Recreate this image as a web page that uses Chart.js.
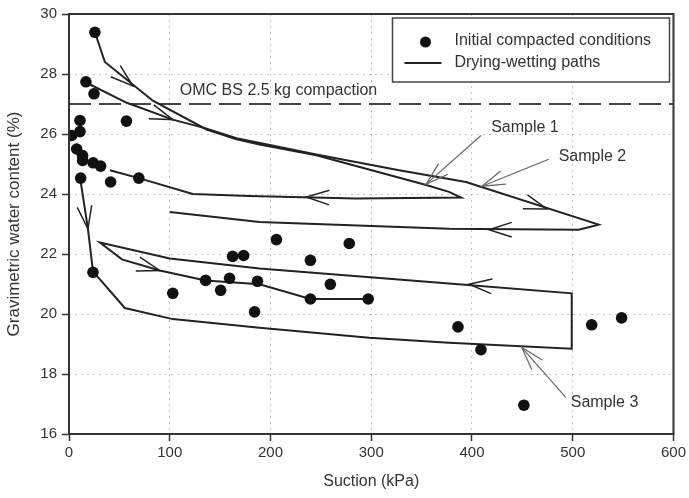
<!DOCTYPE html>
<html>
<head>
<meta charset="utf-8">
<script src="https://cdn.jsdelivr.net/npm/chart.js@4.4.0/dist/chart.umd.min.js"></script>
<style>
  html, body { margin: 0; padding: 0; background: #fff; }
  #wrap { width: 689px; height: 498px; }
</style>
</head>
<body>
<div id="wrap"><canvas id="c" width="689" height="498"></canvas></div>
<script>
// axes
const xTicks = [0, 100, 200, 300, 400, 500, 600];
const yTicks = [16, 18, 20, 22, 24, 26, 28, 30];
const omcLevel = 27.0;

// initial compacted conditions (suction kPa, water content %)
const dotX = [25.7, 16.8, 24.8, 57, 10.9, 10.9, 2.6, 7.6, 13.5, 13.5, 24, 31.4, 11.6, 41.3, 69.3,
  23.8, 103, 135.6, 150.5, 159.4, 162.4, 173.3, 187.1, 184.2, 205.9, 278.2, 239.6, 259.4, 239.6, 297,
  386.1, 408.9, 451.5, 518.8, 548.5];
const dotY = [29.39, 27.74, 27.34, 26.43, 26.45, 26.08, 25.95, 25.5, 25.28, 25.12, 25.04, 24.93, 24.53, 24.4, 24.53,
  21.39, 20.69, 21.12, 20.79, 21.19, 21.92, 21.95, 21.09, 20.07, 22.48, 22.35, 21.79, 20.99, 20.5, 20.5,
  19.57, 18.81, 16.96, 19.64, 19.87];

// drying-wetting paths
const s1X = [25.7, 35.6, 83.2, 136.6, 166.3, 189.1, 245.5, 354.5, 377.2, 389.1, 285, 179, 122.8, 69.3, 40.6];
const s1Y = [29.39, 28.4, 27.11, 26.15, 25.82, 25.65, 25.29, 24.3, 24.07, 23.88, 23.85, 23.93, 24.0, 24.53, 24.79];
const s2X = [17.8, 57.4, 103, 136.6, 166.3, 245.5, 327.7, 394, 525.7, 505.9, 377.2, 189.1, 100];
const s2Y = [27.7, 27.04, 26.48, 26.18, 25.86, 25.32, 24.79, 24.4, 22.98, 22.81, 22.84, 23.07, 23.4];
const s3X = [10.9, 18.8, 23.8, 55.4, 103, 189.1, 298, 377.2, 499, 499, 377.2, 189.1, 100, 30.7, 52.5, 90.1, 135.6, 189.1, 239.6, 297];
const s3Y = [24.56, 22.84, 21.42, 20.2, 19.83, 19.54, 19.21, 19.04, 18.84, 20.69, 21.02, 21.52, 21.85, 22.38, 21.82, 21.45, 21.12, 20.99, 20.5, 20.5];

// direction arrows on the paths: tip and a point behind it
const arrowTipX = [63.4, 103, 235.6, 474.3, 416.8, 18.8, 90.1, 397];
const arrowTipY = [27.6, 26.48, 23.9, 23.5, 22.81, 22.84, 21.45, 20.99];
const arrowFromX = [35.6, 57.4, 300, 394, 505.9, 10.9, 52.5, 499];
const arrowFromY = [28.4, 27.04, 23.85, 24.4, 22.81, 24.56, 21.82, 20.69];

// sample labels and their leader lines
const sampleLabels = ['Sample 1', 'Sample 2', 'Sample 3'];
const labelX = [419, 486, 498];
const labelY = [26.21, 25.25, 17.06];
const leaderFromX = [408.9, 476.2, 493.1];
const leaderFromY = [25.95, 25.16, 17.22];
const leaderTipX = [354.5, 409.9, 449.5];
const leaderTipY = [24.33, 24.26, 18.88];

const FONT = '"Liberation Sans", Arial, Helvetica, sans-serif';
const TEXT = '#333';

const pts = (xs, ys) => xs.map((x, i) => ({ x, y: ys[i] }));

function drawArrow(ctx, tx, ty, fx, fy, len, half) {
  const a = Math.atan2(ty - fy, tx - fx);
  ctx.beginPath();
  ctx.moveTo(tx + len * Math.cos(a + Math.PI - half), ty + len * Math.sin(a + Math.PI - half));
  ctx.lineTo(tx, ty);
  ctx.lineTo(tx + len * Math.cos(a + Math.PI + half), ty + len * Math.sin(a + Math.PI + half));
  ctx.stroke();
}

const decor = {
  id: 'decor',
  afterDatasetsDraw(chart) {
    const { ctx, chartArea: ca, scales: { x, y } } = chart;
    ctx.save();

    // arrows on the paths
    ctx.strokeStyle = '#222';
    ctx.lineWidth = 1.5;
    arrowTipX.forEach((v, i) => {
      drawArrow(ctx, x.getPixelForValue(v), y.getPixelForValue(arrowTipY[i]),
        x.getPixelForValue(arrowFromX[i]), y.getPixelForValue(arrowFromY[i]), 24, 0.31);
    });

    // leader lines
    ctx.strokeStyle = '#666';
    ctx.lineWidth = 1.2;
    leaderTipX.forEach((v, i) => {
      const tx = x.getPixelForValue(v), ty = y.getPixelForValue(leaderTipY[i]);
      const fx = x.getPixelForValue(leaderFromX[i]), fy = y.getPixelForValue(leaderFromY[i]);
      ctx.beginPath();
      ctx.moveTo(fx, fy);
      ctx.lineTo(tx, ty);
      ctx.stroke();
      drawArrow(ctx, tx, ty, fx, fy, 24, 0.3);
    });

    // text
    ctx.fillStyle = TEXT;
    ctx.font = '16px ' + FONT;
    ctx.textBaseline = 'middle';
    ctx.textAlign = 'left';
    sampleLabels.forEach((t, i) => {
      ctx.fillText(t, x.getPixelForValue(labelX[i]), y.getPixelForValue(labelY[i]));
    });
    ctx.fillText('OMC BS 2.5 kg compaction', x.getPixelForValue(110), y.getPixelForValue(27.44));

    // legend box
    const lx = ca.right - 281, ly = ca.top + 4, lw = 277, lh = 64;
    ctx.fillStyle = '#fff';
    ctx.fillRect(lx, ly, lw, lh);
    ctx.strokeStyle = '#444';
    ctx.lineWidth = 1.5;
    ctx.strokeRect(lx, ly, lw, lh);
    ctx.fillStyle = '#111';
    ctx.beginPath();
    ctx.arc(lx + 33, ly + 24, 5.5, 0, Math.PI * 2);
    ctx.fill();
    ctx.strokeStyle = '#222';
    ctx.lineWidth = 2;
    ctx.beginPath();
    ctx.moveTo(lx + 12, ly + 45);
    ctx.lineTo(lx + 49, ly + 45);
    ctx.stroke();
    ctx.fillStyle = TEXT;
    ctx.fillText('Initial compacted conditions', lx + 62, ly + 23);
    ctx.fillText('Drying-wetting paths', lx + 62, ly + 45);

    // frame
    ctx.strokeStyle = '#333';
    ctx.lineWidth = 2;
    ctx.strokeRect(ca.left, ca.top, ca.right - ca.left, ca.bottom - ca.top);
    ctx.restore();
  }
};

const pathStyle = {
  showLine: true,
  pointRadius: 0,
  borderColor: '#222',
  borderWidth: 2,
  tension: 0,
  fill: false,
  order: 2,
};

new Chart(document.getElementById('c').getContext('2d'), {
  type: 'scatter',
  data: {
    datasets: [
      {
        label: 'Initial compacted conditions',
        data: pts(dotX, dotY),
        pointRadius: 5.8,
        pointBackgroundColor: '#111',
        pointBorderColor: '#111',
        pointBorderWidth: 0,
        showLine: false,
        order: 0,
      },
      { label: 'Sample 1', data: pts(s1X, s1Y), ...pathStyle },
      { label: 'Sample 2', data: pts(s2X, s2Y), ...pathStyle },
      { label: 'Sample 3', data: pts(s3X, s3Y), ...pathStyle },
      {
        label: 'OMC',
        data: pts([xTicks[0], xTicks[xTicks.length - 1]], [omcLevel, omcLevel]),
        showLine: true,
        pointRadius: 0,
        borderColor: '#444',
        borderWidth: 2,
        borderDash: [22, 8],
        order: 3,
      },
    ],
  },
  options: {
    responsive: false,
    animation: false,
    devicePixelRatio: 1,
    layout: { padding: { top: 10, right: 13, left: 0, bottom: 0 } },
    plugins: {
      legend: { display: false },
      tooltip: { enabled: false },
    },
    scales: {
      x: {
        type: 'linear',
        min: 0,
        max: 600,
        afterFit: (s) => { s.height = 64; },
        afterBuildTicks: (s) => { s.ticks = xTicks.map(v => ({ value: v })); },
        ticks: { font: { size: 15, family: FONT }, color: TEXT, padding: 3 },
        grid: { color: '#c4c4c4', lineWidth: 1, tickLength: 7, tickColor: '#333', tickWidth: 1.5, tickBorderDash: [] },
        border: { display: false, dash: [2, 4] },
        title: { display: true, text: 'Suction (kPa)', font: { size: 16, family: FONT }, color: TEXT, padding: { top: 0, bottom: 7 } },
      },
      y: {
        type: 'linear',
        min: 16,
        max: 30,
        afterFit: (s) => { s.width = 69; },
        afterBuildTicks: (s) => { s.ticks = yTicks.map(v => ({ value: v })); },
        ticks: { font: { size: 15, family: FONT }, color: TEXT, padding: 5 },
        grid: { color: '#c4c4c4', lineWidth: 1, tickLength: 7, tickColor: '#333', tickWidth: 1.5, tickBorderDash: [] },
        border: { display: false, dash: [2, 4] },
        title: { display: true, text: 'Gravimetric water content (%)', font: { size: 17, family: FONT }, color: TEXT, padding: { top: 4, bottom: 0 } },
      },
    },
  },
  plugins: [decor],
});
</script>
</body>
</html>
